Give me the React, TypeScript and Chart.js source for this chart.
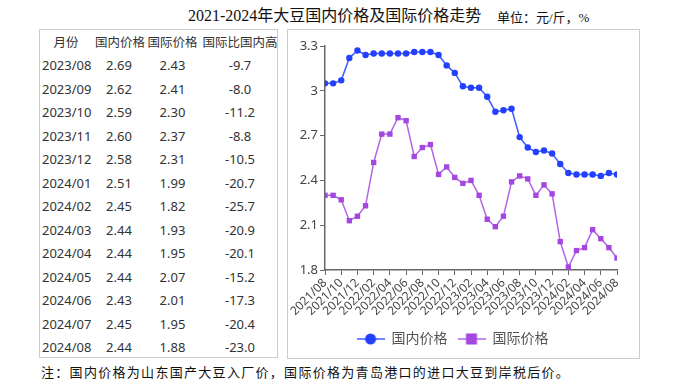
import React, { useEffect, useRef } from 'react';
import { Chart, registerables } from 'chart.js';
Chart.register(...registerables);

const months = [
  '2021/08', '2021/09', '2021/10', '2021/11', '2021/12',
  '2022/01', '2022/02', '2022/03', '2022/04', '2022/05', '2022/06', '2022/07', '2022/08', '2022/09', '2022/10', '2022/11', '2022/12',
  '2023/01', '2023/02', '2023/03', '2023/04', '2023/05', '2023/06', '2023/07', '2023/08', '2023/09', '2023/10', '2023/11', '2023/12',
  '2024/01', '2024/02', '2024/03', '2024/04', '2024/05', '2024/06', '2024/07', '2024/08',
];

const domestic = [
  3.05, 3.05, 3.07, 3.22, 3.27,
  3.24, 3.25, 3.25, 3.25, 3.25, 3.25, 3.26, 3.26, 3.26, 3.24, 3.17, 3.12,
  3.03, 3.02, 3.02, 2.96, 2.86, 2.87, 2.88, 2.69, 2.62, 2.59, 2.60, 2.58,
  2.51, 2.45, 2.44, 2.44, 2.44, 2.43, 2.45, 2.44,
];

const international = [
  2.30, 2.30, 2.27, 2.13, 2.16,
  2.23, 2.52, 2.71, 2.71, 2.82, 2.80, 2.56, 2.62, 2.64, 2.44, 2.49, 2.42,
  2.38, 2.40, 2.30, 2.14, 2.09, 2.16, 2.39, 2.43, 2.41, 2.30, 2.37, 2.31,
  1.99, 1.82, 1.93, 1.95, 2.07, 2.01, 1.95, 1.88,
];

const seriesNames = ['国内价格', '国际价格'];

const tableHeaders = ['月份', '国内价格', '国际价格', '国际比国内高'];
const tableMonths = ['2023/08', '2023/09', '2023/10', '2023/11', '2023/12', '2024/01', '2024/02', '2024/03', '2024/04', '2024/05', '2024/06', '2024/07', '2024/08'];
const tableDomestic = ['2.69', '2.62', '2.59', '2.60', '2.58', '2.51', '2.45', '2.44', '2.44', '2.44', '2.43', '2.45', '2.44'];
const tableIntl = ['2.43', '2.41', '2.30', '2.37', '2.31', '1.99', '1.82', '1.93', '1.95', '2.07', '2.01', '1.95', '1.88'];
const tableDiff = ['-9.7', '-8.0', '-11.2', '-8.8', '-10.5', '-20.7', '-25.7', '-20.9', '-20.1', '-15.2', '-17.3', '-20.4', '-23.0'];

const titleText = '2021-2024年大豆国内价格及国际价格走势';
const unitText = '单位：元/斤，%';
const noteText = '注：国内价格为山东国产大豆入厂价，国际价格为青岛港口的进口大豆到岸税后价。';

const BLUE = '#2340ff';
const BLUE_LINE = '#3d5cff';
const PURPLE = '#a447e0';
const PURPLE_LINE = '#b066e6';

function legendIcon(kind: 'circle' | 'rect', line: string, fill: string): HTMLCanvasElement {
  const c = document.createElement('canvas');
  c.width = 28;
  c.height = 14;
  const ctx = c.getContext('2d')!;
  ctx.strokeStyle = line;
  ctx.lineWidth = 1.5;
  ctx.beginPath();
  ctx.moveTo(0, 7);
  ctx.lineTo(28, 7);
  ctx.stroke();
  ctx.fillStyle = fill;
  if (kind === 'circle') {
    ctx.beginPath();
    ctx.arc(14, 7, 5.5, 0, Math.PI * 2);
    ctx.fill();
  } else {
    ctx.fillRect(8.5, 1.5, 11, 11);
  }
  return c;
}

const SANS = '"Noto Sans", "Noto Sans CJK SC", sans-serif';
const SERIF = '"Liberation Serif", "Noto Sans CJK SC", serif';

function ChartBox() {
  const ref = useRef<HTMLCanvasElement | null>(null);
  useEffect(() => {
    if (!ref.current) return;
    const icons = [legendIcon('circle', BLUE_LINE, BLUE), legendIcon('rect', PURPLE_LINE, PURPLE)];
    const chart = new Chart(ref.current, {
      type: 'line',
      data: {
        datasets: [
          {
            label: seriesNames[0],
            data: domestic.map((v, i) => ({ x: i, y: v })),
            borderColor: BLUE_LINE,
            backgroundColor: BLUE,
            pointBackgroundColor: BLUE,
            pointBorderColor: BLUE,
            pointStyle: 'circle',
            pointRadius: 3.2,
            pointBorderWidth: 0,
            borderWidth: 1.5,
            tension: 0,
          },
          {
            label: seriesNames[1],
            data: international.map((v, i) => ({ x: i, y: v })),
            borderColor: PURPLE_LINE,
            backgroundColor: PURPLE,
            pointBackgroundColor: PURPLE,
            pointBorderColor: PURPLE,
            pointStyle: 'rect',
            pointRadius: 3.8,
            pointBorderWidth: 0,
            borderWidth: 1.5,
            tension: 0,
          },
        ],
      },
      options: {
        animation: false,
        responsive: false,
        maintainAspectRatio: false,
        layout: { padding: { top: 16, right: 22, left: 0, bottom: 2 } },
        plugins: {
          tooltip: { enabled: false },
          legend: {
            position: 'bottom',
            labels: {
              usePointStyle: true,
              pointStyleWidth: 28,
              boxHeight: 14,
              padding: 10,
              color: '#555',
              font: { size: 14, family: SANS },
              generateLabels: (ch: any) => {
                const base = (Chart.defaults.plugins.legend.labels as any).generateLabels(ch);
                return base.map((l: any, i: number) => ({ ...l, pointStyle: icons[i], fontColor: '#555' }));
              },
            },
          },
        },
        scales: {
          x: {
            type: 'linear',
            min: 0,
            max: 36,
            afterFit: (s: any) => { s.height = 52; },
            ticks: {
              stepSize: 2,
              autoSkip: false,
              minRotation: 45,
              maxRotation: 45,
              padding: 1,
              color: '#444',
              font: { size: 12, family: SANS },
              callback: (v: any) => months[Math.round(Number(v))] ?? '',
            },
            grid: { display: true, drawOnChartArea: false, drawTicks: true, tickLength: 5, color: '#666' },
            border: { display: true, color: '#666', width: 1.5 },
          },
          y: {
            min: 1.8,
            max: 3.3,
            afterFit: (s: any) => { s.width = 37; },
            ticks: {
              stepSize: 0.3,
              padding: 2,
              color: '#444',
              font: { size: 13, family: SANS },
              callback: (v: any) => String(Number(Number(v).toFixed(1))),
            },
            grid: { display: true, drawOnChartArea: false, drawTicks: true, tickLength: 5, color: '#666' },
            border: { display: true, color: '#666', width: 1.5 },
          },
        },
      },
    } as any);
    return () => chart.destroy();
  }, []);
  return <canvas ref={ref} width={351} height={328} style={{ display: 'block', width: 351, height: 328 }} />;
}

export default function App() {
  const rowTop = (i: number) => 65 + i * 23.5;
  const cell = (text: string, center: number, top: number, key: string, align: 'center' | 'left' = 'center', size = 13) => (
    <div
      key={key}
      style={{
        position: 'absolute',
        left: align === 'left' ? center : center - 50,
        width: 100,
        top: top - 10,
        height: 20,
        lineHeight: '20px',
        textAlign: align,
        fontSize: size,
        color: '#333',
        fontFamily: SANS,
        whiteSpace: 'nowrap',
      }}
    >
      {text}
    </div>
  );
  const cols = [66, 120, 172.5, 240];
  return (
    <div style={{ position: 'absolute', left: 0, top: 0, width: 677, height: 388, background: '#fff', overflow: 'hidden' }}>
      <div style={{ position: 'absolute', left: 188, top: 6, fontFamily: SERIF, fontSize: 16, lineHeight: '20px', color: '#111', whiteSpace: 'nowrap' }}>
        {titleText}
      </div>
      <div style={{ position: 'absolute', left: 497, top: 9, fontFamily: SERIF, fontSize: 13, lineHeight: '18px', color: '#111', whiteSpace: 'nowrap' }}>
        {unitText}
      </div>
      <div style={{ position: 'absolute', left: 39, top: 29, width: 239, height: 329, border: '1px solid #ccc', boxSizing: 'border-box' }} />
      {tableHeaders.map((h, j) => cell(h, cols[j], 43, 'h' + j, 'center', 12.5))}
      {tableMonths.map((m, i) => (
        <React.Fragment key={m}>
          {cell(m, 42, rowTop(i), 'm' + i, 'left')}
          {cell(tableDomestic[i], cols[1] - 1, rowTop(i), 'd' + i)}
          {cell(tableIntl[i], cols[2], rowTop(i), 'n' + i)}
          {cell(tableDiff[i], cols[3], rowTop(i), 'f' + i)}
        </React.Fragment>
      ))}
      <div style={{ position: 'absolute', left: 287, top: 29, width: 353, height: 330, border: '1px solid #ccc', boxSizing: 'border-box' }}>
        <ChartBox />
      </div>
      <div style={{ position: 'absolute', left: 41, top: 364, fontFamily: SERIF, fontSize: 13, lineHeight: '18px', letterSpacing: 1.3, color: '#111', whiteSpace: 'nowrap' }}>
        {noteText}
      </div>
    </div>
  );
}
